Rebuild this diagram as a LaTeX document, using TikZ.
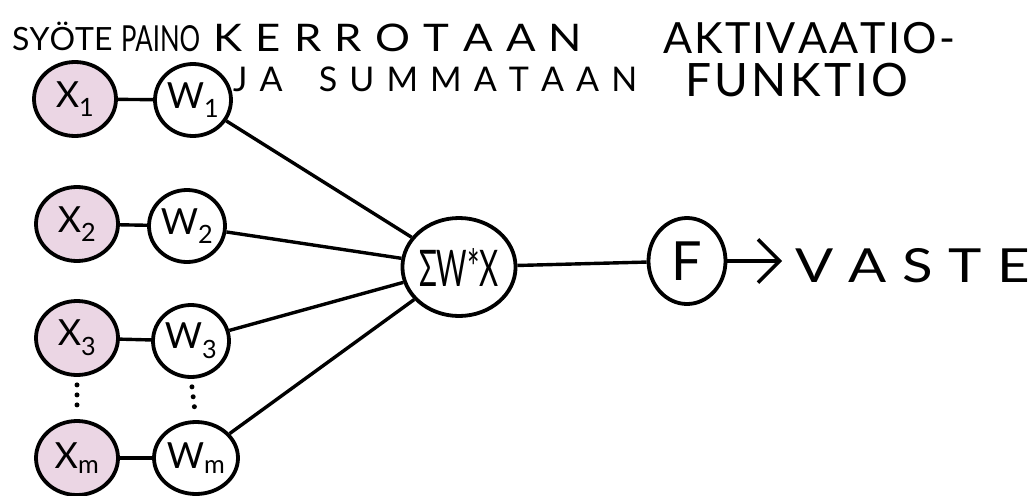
\documentclass[tikz,border=0pt]{standalone}
\usepackage{fontspec}
\setmainfont{Lato}
\newfontfamily\latoW{Lato}[FakeStretch=1.15]
\newfontfamily\latoV{Lato}[FakeStretch=1.2]
\usepackage{graphicx}
\usetikzlibrary{shapes.geometric,arrows.meta}
\definecolor{inpink}{RGB}{235,214,228}
\begin{document}
\begin{tikzpicture}[x=1pt,y=-1pt,
  basenode/.style={ellipse,draw,line width=3.8pt,inner sep=0pt,font=\fontsize{36}{36}\selectfont},
  xnode/.style={basenode,fill=inpink,minimum width=82pt,minimum height=74pt},
  wnode/.style={basenode,fill=white,minimum width=76pt,minimum height=72pt},
  conn/.style={line width=3.4pt},
  dots/.style={line width=5pt,line cap=round,dash pattern=on 0pt off 10pt,shorten <=8pt,shorten >=6pt},
  lbl/.style={anchor=base west,inner sep=0pt}]
\useasboundingbox (0,0) rectangle (1032,495);

% headings
\node[lbl,font=\fontsize{32}{32}\selectfont] (syote) at (12,51) {\hbox to 98pt{S\hfil Y\hfil Ö\hfil T\hfil E}};
\node[lbl] (paino) at (121,52) {\resizebox{79pt}{26pt}{PAINO}};
\node[lbl,font=\fontsize{38}{38}\latoW] (kerr) at (213,52) {\hbox to 369pt{K\hfil E\hfil R\hfil R\hfil O\hfil T\hfil A\hfil A\hfil N}};
\node[lbl,font=\fontsize{34}{34}\selectfont] (summ) at (233,91) {\hbox to 404pt{J\hfil A\hfil\hfil\hfil S\hfil U\hfil M\hfil M\hfil A\hfil T\hfil A\hfil A\hfil N}};
\node[lbl,font=\fontsize{43}{43}\selectfont] (akt) at (663,53) {\hbox to 292pt{A\hfil K\hfil T\hfil I\hfil V\hfil A\hfil A\hfil T\hfil I\hfil O\hfil -}};
\node[lbl,font=\fontsize{46}{46}\selectfont] (funk) at (685,96) {\hbox to 223pt{F\hfil U\hfil N\hfil K\hfil T\hfil I\hfil O}};
\node[lbl,font=\fontsize{47}{47}\latoV] (vaste) at (795,282) {\hbox to 235pt{V\hfil A\hfil S\hfil T\hfil E}};

% input and weight nodes
\node[xnode] (x1) at (75,99) {X\textsubscript{1}};
\node[xnode] (x2) at (77,224) {X\textsubscript{2}};
\node[xnode] (x3) at (77,338) {X\textsubscript{3}};
\node[xnode] (xm) at (77,458) {X\textsubscript{m}};
\node[wnode] (w1) at (193,100) {W\textsubscript{1}};
\node[wnode] (w2) at (187,226) {W\textsubscript{2}};
\node[wnode] (w3) at (191,341) {W\textsubscript{3}};
\node[wnode,minimum width=84pt] (wm) at (196,458) {W\textsubscript{m}};

% sum and activation
\node[basenode,fill=white,minimum width=96pt,minimum height=98pt] (sum) at (459,267) {\resizebox{80pt}{38pt}{ΣW*X}};
\node[basenode,fill=white,minimum width=77pt,minimum height=86pt,font=\fontsize{54}{54}\selectfont] (f) at (687,261) {F};

% connectors
\draw[conn] (x1) -- (w1);
\draw[conn] (x2) -- (w2);
\draw[conn] (x3) -- (w3);
\draw[conn] (xm) -- (wm);
\draw[dots] (x3.south) -- (xm.north);
\draw[dots] (w3.south) -- (wm.north);
\draw[conn] (w1) -- (sum);
\draw[conn] (w2) -- (sum);
\draw[conn] (w3) -- (sum);
\draw[conn] (wm) -- (sum);
\draw[conn] (sum) -- (f);
\draw[conn,-{Straight Barb[scale=2.6]},shorten >=13pt] (f.east) -- (f.east -| vaste.west);
\end{tikzpicture}
\end{document}
